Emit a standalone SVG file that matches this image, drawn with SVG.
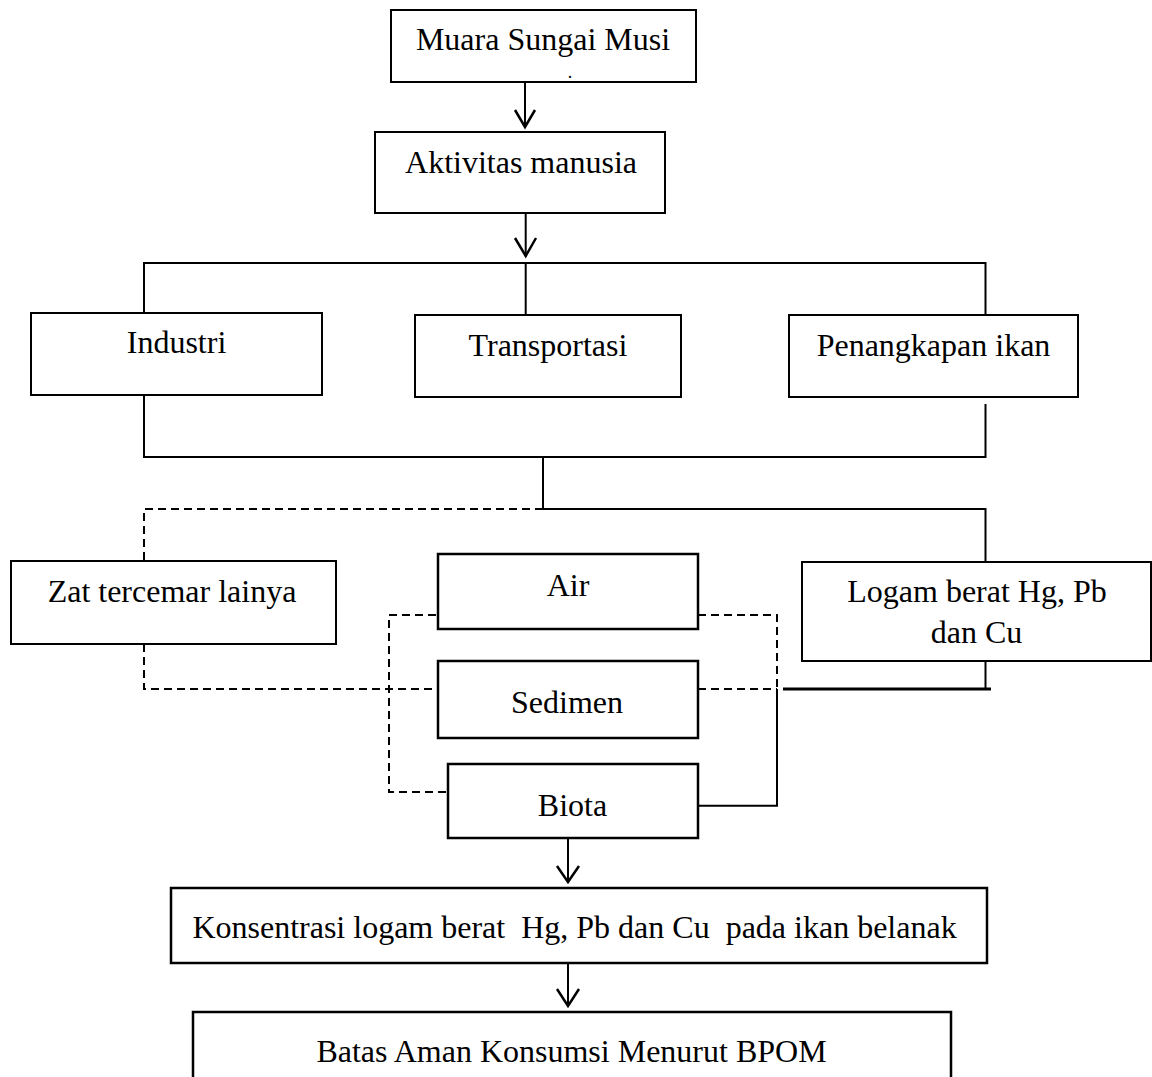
<svg xmlns="http://www.w3.org/2000/svg" width="1152" height="1077" viewBox="0 0 1152 1077">
<style>
.box{fill:#fff;stroke:#000;stroke-width:2}
.box2{fill:#fff;stroke:#000;stroke-width:2.5}
.t{font-family:"Liberation Serif","Times New Roman",serif;font-size:32px;fill:#000;text-anchor:middle}
.ln{fill:none;stroke:#000;stroke-width:2}
.dash{fill:none;stroke:#000;stroke-width:2;stroke-dasharray:8 5}
.ah{fill:none;stroke:#000;stroke-width:2.5}
</style>
<rect width="1152" height="1077" fill="#fff"/>
<g id="connectors">
<polyline class="ln" points="525,82 525,127"/>
<polyline class="ah" points="515,110 525,127 535,110"/>
<polyline class="ln" points="525.7,213 525.7,256"/>
<polyline class="ah" points="515,238 525.7,256 536,238"/>
<polyline class="ln" points="144,313 144,263 985.5,263 985.5,315"/>
<polyline class="ln" points="525.7,262 525.7,315"/>
<polyline class="ln" points="144,395 144,457 985.5,457 985.5,404"/>
<polyline class="ln" points="543,457 543,509"/>
<polyline class="ln" points="543,509 985.5,509 985.5,562"/>
<polyline class="dash" points="543,509 144,509 144,561"/>
<polyline class="dash" points="144,644 144,689 438,689"/>
<polyline class="dash" points="449,615 389,615 389,792 448,792"/>
<polyline class="dash" points="698,615 777,615 777,689"/>
<polyline class="dash" points="698,689 777,689"/>
<polyline class="ln" style="stroke-width:3" points="783,689 991,689"/>
<polyline class="ln" points="985.5,661 985.5,689"/>
<polyline class="ln" points="698,805.7 777,805.7 777,689"/>
<polyline class="ln" points="568,838 568,882"/>
<polyline class="ah" points="557,866 568,882 579,866"/>
<polyline class="ln" points="568,963 568,1006"/>
<polyline class="ah" points="557,989 568,1006 579,989"/>
</g>
<g id="n-muara">
<rect class="box" x="391" y="10" width="305" height="72"/>
<text class="t" x="543" y="50">Muara Sungai Musi</text>
<text class="t" x="570" y="78" style="font-size:18px">.</text>
</g>
<g id="n-aktivitas">
<rect class="box" x="375" y="132" width="290" height="81"/>
<text class="t" x="521" y="173">Aktivitas manusia</text>
</g>
<g id="n-industri">
<rect class="box" x="31" y="313" width="291" height="82"/>
<text class="t" x="176.5" y="353">Industri</text>
</g>
<g id="n-transportasi">
<rect class="box" x="415" y="315" width="266" height="82"/>
<text class="t" x="548" y="355.5">Transportasi</text>
</g>
<g id="n-penangkapan">
<rect class="box" x="789" y="315" width="289" height="82"/>
<text class="t" x="933.5" y="355.5">Penangkapan ikan</text>
</g>
<g id="n-zat">
<rect class="box" x="11" y="561" width="325" height="83"/>
<text class="t" x="172" y="602">Zat tercemar lainya</text>
</g>
<g id="n-air">
<rect class="box2" x="438" y="554" width="260" height="75"/>
<text class="t" x="568" y="596">Air</text>
</g>
<g id="n-sedimen">
<rect class="box2" x="438" y="661" width="260" height="77"/>
<text class="t" x="567" y="712.5">Sedimen</text>
</g>
<g id="n-biota">
<rect class="box2" x="448" y="764" width="250" height="74"/>
<text class="t" x="572.5" y="816">Biota</text>
</g>
<g id="n-logam">
<rect class="box" x="802" y="562" width="349" height="99"/>
<text class="t" x="977" y="601.7">Logam berat Hg, Pb</text>
<text class="t" x="976.5" y="642.7">dan Cu</text>
</g>
<g id="n-konsentrasi">
<rect class="box2" x="171" y="888" width="816" height="75"/>
<text class="t" x="574.5" y="938" xml:space="preserve">Konsentrasi logam berat  Hg, Pb dan Cu  pada ikan belanak</text>
</g>
<g id="n-batas">
<rect class="box2" x="193" y="1012" width="758" height="80"/>
<text class="t" x="571.5" y="1062">Batas Aman Konsumsi Menurut BPOM</text>
</g>
</svg>
